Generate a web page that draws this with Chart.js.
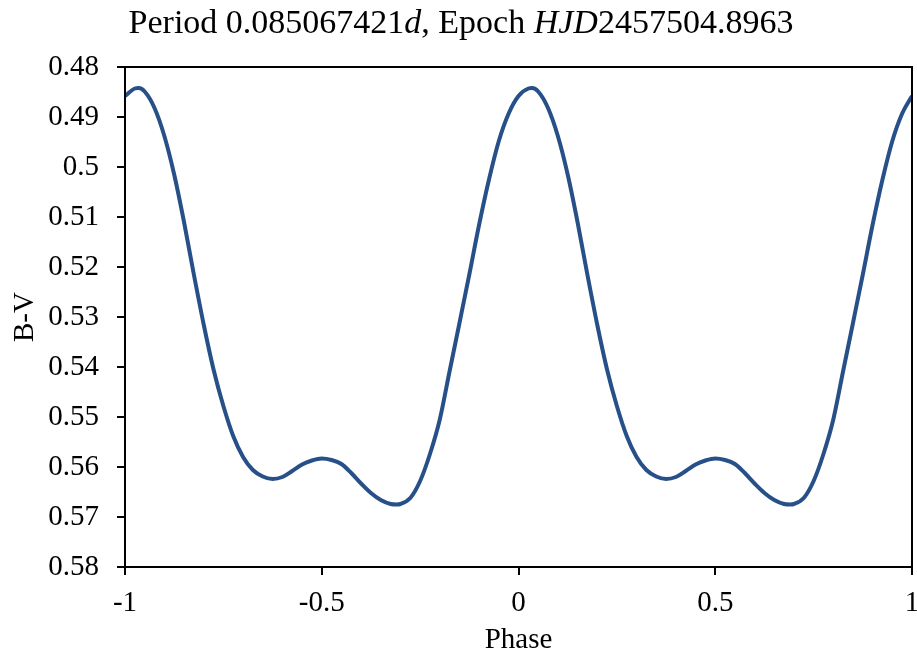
<!DOCTYPE html>
<html>
<head>
<meta charset="utf-8">
<script src="https://cdn.jsdelivr.net/npm/chart.js@4/dist/chart.umd.min.js"></script>
<style>
  html, body { margin: 0; padding: 0; background: #fff; }
  #wrap { position: absolute; left: 0; top: 0; width: 917px; height: 659px; }
</style>
</head>
<body>
<div id="wrap"><canvas id="lightCurve"></canvas></div>
<script>
// phase values (two cycles, -1 .. 1)
const phase = [
  -1, -0.975, -0.965, -0.95, -0.925, -0.9, -0.875, -0.85, -0.825, -0.8, -0.775, -0.75, -0.725, -0.7,
  -0.675, -0.65, -0.625, -0.6, -0.575, -0.55, -0.525, -0.5, -0.475, -0.45, -0.425, -0.4, -0.375, -0.35,
  -0.325, -0.31, -0.3, -0.275, -0.25, -0.225, -0.2, -0.175, -0.15, -0.125, -0.1, -0.075, -0.05, -0.025,
  0, 0.025, 0.035, 0.05, 0.075, 0.1, 0.125, 0.15, 0.175, 0.2, 0.225, 0.25, 0.275, 0.3,
  0.325, 0.35, 0.375, 0.4, 0.425, 0.45, 0.475, 0.5, 0.525, 0.55, 0.575, 0.6, 0.625, 0.65,
  0.675, 0.69, 0.7, 0.725, 0.75, 0.775, 0.8, 0.825, 0.85, 0.875, 0.9, 0.925, 0.95, 0.975, 1
];

const bv = [
  0.4858, 0.4843, 0.4842, 0.4849, 0.4882, 0.4938, 0.5015, 0.5110, 0.5215, 0.5315, 0.5405, 0.5478, 0.5538, 0.5580,
  0.5606, 0.5619, 0.5624, 0.5620, 0.5608, 0.5595, 0.5587, 0.5583, 0.5586, 0.5594, 0.5612, 0.5633, 0.5652, 0.5666,
  0.5674, 0.5675, 0.5674, 0.5662, 0.5628, 0.5574, 0.5505, 0.5408, 0.5312, 0.5215, 0.5115, 0.5025, 0.4948, 0.4893,
  0.4858, 0.4843, 0.4842, 0.4849, 0.4882, 0.4938, 0.5015, 0.5110, 0.5215, 0.5315, 0.5405, 0.5478, 0.5538, 0.5580,
  0.5606, 0.5619, 0.5624, 0.5620, 0.5608, 0.5595, 0.5587, 0.5583, 0.5586, 0.5594, 0.5612, 0.5633, 0.5652, 0.5666,
  0.5674, 0.5675, 0.5674, 0.5662, 0.5628, 0.5574, 0.5505, 0.5408, 0.5312, 0.5215, 0.5115, 0.5025, 0.4948, 0.4893,
  0.4858
];

// title pieces, [text, italic]
const titleParts = [
  ['Period 0.085067421', false],
  ['d', true],
  [', Epoch ', false],
  ['HJD', true],
  ['2457504.8963', false]
];

const SERIF = "'Liberation Serif', 'Times New Roman', serif";

const framePlugin = {
  id: 'frame',
  afterDraw(chart) {
    const { ctx, chartArea } = chart;
    ctx.save();
    ctx.strokeStyle = '#000';
    ctx.lineWidth = 2;
    ctx.strokeRect(chartArea.left, chartArea.top, chartArea.right - chartArea.left, chartArea.bottom - chartArea.top);

    // mixed roman / italic title
    const size = 34;
    let total = 0;
    titleParts.forEach(p => {
      ctx.font = (p[1] ? 'italic ' : '') + size + 'px ' + SERIF;
      total += ctx.measureText(p[0]).width;
    });
    let x = 461 - total / 2;
    ctx.fillStyle = '#000';
    ctx.textBaseline = 'alphabetic';
    titleParts.forEach(p => {
      ctx.font = (p[1] ? 'italic ' : '') + size + 'px ' + SERIF;
      ctx.fillText(p[0], x, 33);
      x += ctx.measureText(p[0]).width;
    });
    ctx.restore();
  }
};

const points = phase.map((p, i) => ({ x: p, y: bv[i] }));

new Chart(document.getElementById('lightCurve'), {
  type: 'scatter',
  data: {
    datasets: [{
      label: 'B-V',
      data: points,
      showLine: true,
      borderColor: '#265087',
      borderWidth: 4,
      pointRadius: 0,
      cubicInterpolationMode: 'monotone',
      fill: false
    }]
  },
  options: {
    responsive: true,
    maintainAspectRatio: false,
    devicePixelRatio: 1,
    animation: false,
    layout: { padding: { top: 67, right: 5, left: 0, bottom: 0 } },
    plugins: {
      legend: { display: false },
      tooltip: { enabled: false }
    },
    scales: {
      x: {
        type: 'linear',
        min: -1,
        max: 1,
        afterFit: scale => {
          scale.height = 92;
          scale.paddingLeft = 0;
          scale.paddingRight = 0;
        },
        ticks: {
          stepSize: 0.5,
          color: '#000',
          font: { family: SERIF, size: 29 },
          padding: 11,
          maxRotation: 0,
          callback: v => Number(v.toFixed(2)).toString()
        },
        grid: { drawOnChartArea: false, tickLength: 8, color: '#000', lineWidth: 2 },
        border: { color: '#000', width: 2 },
        title: {
          display: true,
          text: 'Phase',
          color: '#000',
          font: { family: SERIF, size: 29 },
          padding: { top: 0, bottom: 1 }
        }
      },
      y: {
        type: 'linear',
        min: 0.48,
        max: 0.58,
        reverse: true,
        afterFit: scale => { scale.width = 125; },
        ticks: {
          stepSize: 0.01,
          color: '#000',
          font: { family: SERIF, size: 29 },
          padding: 18,
          callback: v => Number(v.toFixed(2)).toString()
        },
        grid: { drawOnChartArea: false, tickLength: 8, color: '#000', lineWidth: 2 },
        border: { color: '#000', width: 2 },
        title: {
          display: true,
          text: 'B-V',
          color: '#000',
          font: { family: SERIF, size: 29 },
          padding: { top: 8, bottom: 0 }
        }
      }
    }
  },
  plugins: [framePlugin]
});
</script>
</body>
</html>
